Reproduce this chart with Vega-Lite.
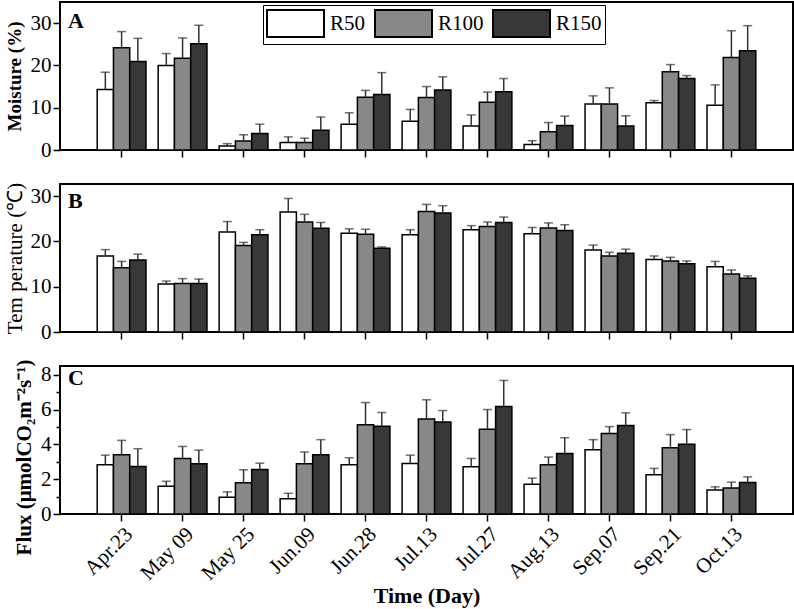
{
 "$schema": "https://vega.github.io/schema/vega-lite/v6.json",
 "background": "white",
 "padding": {"left": 2, "top": 1, "right": 1, "bottom": 2},
 "bounds": "flush",
 "spacing": 34,
 "config": {
  "font": "Liberation Serif",
  "view": {"stroke": "black", "strokeWidth": 2},
  "axis": {"domain": false, "grid": false, "tickColor": "black", "tickWidth": 1.5, "labelFont": "Liberation Serif", "labelColor": "black", "titleColor": "black", "titleFont": "Liberation Serif", "labelOverlap": false},
  "title": {"font": "Liberation Serif", "color": "black"}
 },
 "resolve": {"legend": {"color": "independent"}},
 "datasets": {
  "moisture": [
   {"date": "Apr.23", "series": "R50", "v": 14.3, "e": 18.4},
   {"date": "Apr.23", "series": "R100", "v": 24.2, "e": 28.0},
   {"date": "Apr.23", "series": "R150", "v": 20.9, "e": 26.4},
   {"date": "May 09", "series": "R50", "v": 20.0, "e": 22.8},
   {"date": "May 09", "series": "R100", "v": 21.7, "e": 26.5},
   {"date": "May 09", "series": "R150", "v": 25.1, "e": 29.5},
   {"date": "May 25", "series": "R50", "v": 0.95, "e": 1.5},
   {"date": "May 25", "series": "R100", "v": 2.1, "e": 3.6},
   {"date": "May 25", "series": "R150", "v": 3.9, "e": 6.1},
   {"date": "Jun.09", "series": "R50", "v": 1.8, "e": 3.1},
   {"date": "Jun.09", "series": "R100", "v": 1.8, "e": 2.8},
   {"date": "Jun.09", "series": "R150", "v": 4.7, "e": 7.8},
   {"date": "Jun.28", "series": "R50", "v": 6.1, "e": 8.8},
   {"date": "Jun.28", "series": "R100", "v": 12.5, "e": 14.1},
   {"date": "Jun.28", "series": "R150", "v": 13.1, "e": 18.3},
   {"date": "Jul.13", "series": "R50", "v": 6.8, "e": 9.6},
   {"date": "Jul.13", "series": "R100", "v": 12.4, "e": 15.0},
   {"date": "Jul.13", "series": "R150", "v": 14.2, "e": 17.3},
   {"date": "Jul.27", "series": "R50", "v": 5.7, "e": 8.3},
   {"date": "Jul.27", "series": "R100", "v": 11.3, "e": 13.7},
   {"date": "Jul.27", "series": "R150", "v": 13.8, "e": 16.9},
   {"date": "Aug.13", "series": "R50", "v": 1.3, "e": 2.2},
   {"date": "Aug.13", "series": "R100", "v": 4.3, "e": 6.5},
   {"date": "Aug.13", "series": "R150", "v": 5.8, "e": 8.0},
   {"date": "Sep.07", "series": "R50", "v": 10.9, "e": 12.8},
   {"date": "Sep.07", "series": "R100", "v": 10.9, "e": 14.7},
   {"date": "Sep.07", "series": "R150", "v": 5.7, "e": 8.1},
   {"date": "Sep.21", "series": "R50", "v": 11.2, "e": 11.7},
   {"date": "Sep.21", "series": "R100", "v": 18.5, "e": 20.2},
   {"date": "Sep.21", "series": "R150", "v": 16.9, "e": 17.6},
   {"date": "Oct.13", "series": "R50", "v": 10.6, "e": 15.4},
   {"date": "Oct.13", "series": "R100", "v": 21.9, "e": 28.2},
   {"date": "Oct.13", "series": "R150", "v": 23.5, "e": 29.4}
  ],
  "temperature": [
   {"date": "Apr.23", "series": "R50", "v": 16.8, "e": 18.2},
   {"date": "Apr.23", "series": "R100", "v": 14.2, "e": 15.6},
   {"date": "Apr.23", "series": "R150", "v": 15.9, "e": 17.2},
   {"date": "May 09", "series": "R50", "v": 10.6, "e": 11.25},
   {"date": "May 09", "series": "R100", "v": 10.7, "e": 11.8},
   {"date": "May 09", "series": "R150", "v": 10.7, "e": 11.7},
   {"date": "May 25", "series": "R50", "v": 22.1, "e": 24.4},
   {"date": "May 25", "series": "R100", "v": 19.1, "e": 19.8},
   {"date": "May 25", "series": "R150", "v": 21.5, "e": 22.6},
   {"date": "Jun.09", "series": "R50", "v": 26.5, "e": 29.5},
   {"date": "Jun.09", "series": "R100", "v": 24.3, "e": 26.0},
   {"date": "Jun.09", "series": "R150", "v": 22.9, "e": 24.2},
   {"date": "Jun.28", "series": "R50", "v": 21.8, "e": 22.8},
   {"date": "Jun.28", "series": "R100", "v": 21.6, "e": 22.7},
   {"date": "Jun.28", "series": "R150", "v": 18.5, "e": 18.8},
   {"date": "Jul.13", "series": "R50", "v": 21.5, "e": 22.6},
   {"date": "Jul.13", "series": "R100", "v": 26.6, "e": 28.2},
   {"date": "Jul.13", "series": "R150", "v": 26.3, "e": 27.9},
   {"date": "Jul.27", "series": "R50", "v": 22.6, "e": 23.5},
   {"date": "Jul.27", "series": "R100", "v": 23.3, "e": 24.3},
   {"date": "Jul.27", "series": "R150", "v": 24.2, "e": 25.4},
   {"date": "Aug.13", "series": "R50", "v": 21.7, "e": 23.1},
   {"date": "Aug.13", "series": "R100", "v": 23.0, "e": 24.1},
   {"date": "Aug.13", "series": "R150", "v": 22.4, "e": 23.7},
   {"date": "Sep.07", "series": "R50", "v": 18.1, "e": 19.2},
   {"date": "Sep.07", "series": "R100", "v": 16.8, "e": 17.6},
   {"date": "Sep.07", "series": "R150", "v": 17.4, "e": 18.3},
   {"date": "Sep.21", "series": "R50", "v": 16.0, "e": 16.8},
   {"date": "Sep.21", "series": "R100", "v": 15.7, "e": 16.5},
   {"date": "Sep.21", "series": "R150", "v": 15.1, "e": 15.7},
   {"date": "Oct.13", "series": "R50", "v": 14.4, "e": 15.6},
   {"date": "Oct.13", "series": "R100", "v": 12.8, "e": 13.7},
   {"date": "Oct.13", "series": "R150", "v": 11.9, "e": 12.4}
  ],
  "flux": [
   {"date": "Apr.23", "series": "R50", "v": 2.83, "e": 3.38},
   {"date": "Apr.23", "series": "R100", "v": 3.40, "e": 4.23},
   {"date": "Apr.23", "series": "R150", "v": 2.73, "e": 3.75},
   {"date": "May 09", "series": "R50", "v": 1.6, "e": 1.88},
   {"date": "May 09", "series": "R100", "v": 3.19, "e": 3.88},
   {"date": "May 09", "series": "R150", "v": 2.88, "e": 3.67},
   {"date": "May 25", "series": "R50", "v": 0.96, "e": 1.27},
   {"date": "May 25", "series": "R100", "v": 1.79, "e": 2.54},
   {"date": "May 25", "series": "R150", "v": 2.56, "e": 2.92},
   {"date": "Jun.09", "series": "R50", "v": 0.88, "e": 1.19},
   {"date": "Jun.09", "series": "R100", "v": 2.88, "e": 3.56},
   {"date": "Jun.09", "series": "R150", "v": 3.40, "e": 4.27},
   {"date": "Jun.28", "series": "R50", "v": 2.83, "e": 3.23},
   {"date": "Jun.28", "series": "R100", "v": 5.13, "e": 6.40},
   {"date": "Jun.28", "series": "R150", "v": 5.04, "e": 5.83},
   {"date": "Jul.13", "series": "R50", "v": 2.90, "e": 3.38},
   {"date": "Jul.13", "series": "R100", "v": 5.46, "e": 6.56},
   {"date": "Jul.13", "series": "R150", "v": 5.29, "e": 5.94},
   {"date": "Jul.27", "series": "R50", "v": 2.71, "e": 3.19},
   {"date": "Jul.27", "series": "R100", "v": 4.87, "e": 6.0},
   {"date": "Jul.27", "series": "R150", "v": 6.17, "e": 7.67},
   {"date": "Aug.13", "series": "R50", "v": 1.71, "e": 2.06},
   {"date": "Aug.13", "series": "R100", "v": 2.83, "e": 3.27},
   {"date": "Aug.13", "series": "R150", "v": 3.48, "e": 4.38},
   {"date": "Sep.07", "series": "R50", "v": 3.69, "e": 4.27},
   {"date": "Sep.07", "series": "R100", "v": 4.62, "e": 5.02},
   {"date": "Sep.07", "series": "R150", "v": 5.08, "e": 5.81},
   {"date": "Sep.21", "series": "R50", "v": 2.25, "e": 2.62},
   {"date": "Sep.21", "series": "R100", "v": 3.81, "e": 4.56},
   {"date": "Sep.21", "series": "R150", "v": 4.0, "e": 4.85},
   {"date": "Oct.13", "series": "R50", "v": 1.38, "e": 1.56},
   {"date": "Oct.13", "series": "R100", "v": 1.5, "e": 1.83},
   {"date": "Oct.13", "series": "R150", "v": 1.81, "e": 2.13}
  ]
 },
 "vconcat": [
  {
   "width": 733, "height": 148,
   "data": {"name": "moisture"},
   "title": {"text": "A", "anchor": "start", "frame": "group", "fontSize": 22, "fontWeight": "bold", "dx": 8, "dy": 31, "offset": 0},
   "encoding": {
    "x": {"field": "date", "type": "nominal", "sort": null, "scale": {"paddingInner": 0.2, "paddingOuter": 0.61}, "axis": {"title": null, "labels": false, "tickSize": 7}},
    "xOffset": {"field": "series", "type": "nominal", "sort": ["R50", "R100", "R150"], "scale": {"paddingInner": 0, "paddingOuter": 0}}
   },
   "layer": [
    {"mark": {"type": "bar", "stroke": "black", "strokeWidth": 1.5},
     "encoding": {
      "y": {"field": "v", "type": "quantitative", "scale": {"domain": [0, 35], "nice": false},
            "axis": {"title": "Moisture (%)", "titleFontWeight": "bold", "titleFontSize": 19, "titlePadding": 6, "labelFontSize": 21, "labelPadding": 2, "labelOverlap": false,
                     "values": [0, 5, 10, 15, 20, 25, 30], "labelExpr": "datum.value % 10 === 0 ? datum.label : ''",
                     "tickSize": {"condition": {"test": "datum.value % 10 === 0", "value": 7}, "value": 4}}},
      "color": {"field": "series", "type": "nominal", "scale": {"domain": ["R50", "R100", "R150"], "range": ["white", "#888888", "#383838"]},
                "legend": {"orient": "none", "legendX": 203, "legendY": 3, "direction": "horizontal", "title": null,
                           "symbolType": "M-2,-0.947H2V0.947H-2Z", "symbolSize": 812, "symbolOffset": 14, "symbolStrokeWidth": 2, "symbolStrokeColor": "black", "symbolOpacity": 1,
                           "labelFontSize": 21, "labelFont": "Liberation Serif", "labelColor": "black", "labelOffset": 19, "columnPadding": 5,
                           "strokeColor": "black", "padding": 3, "fillColor": "white"}}
     }},
    {"mark": {"type": "rule", "color": "#333333", "strokeWidth": 1.5},
     "encoding": {"y": {"field": "v", "type": "quantitative"}, "y2": {"field": "e"}}},
    {"mark": {"type": "tick", "color": "#333333", "thickness": 1.5, "size": 9},
     "encoding": {"y": {"field": "e", "type": "quantitative"}}}
   ]
  },
  {
   "width": 733, "height": 148,
   "data": {"name": "temperature"},
   "title": {"text": "B", "anchor": "start", "frame": "group", "fontSize": 22, "fontWeight": "bold", "dx": 8, "dy": 31, "offset": 0},
   "encoding": {
    "x": {"field": "date", "type": "nominal", "sort": null, "scale": {"paddingInner": 0.2, "paddingOuter": 0.61}, "axis": {"title": null, "labels": false, "tickSize": 7}},
    "xOffset": {"field": "series", "type": "nominal", "sort": ["R50", "R100", "R150"], "scale": {"paddingInner": 0, "paddingOuter": 0}}
   },
   "layer": [
    {"mark": {"type": "bar", "stroke": "black", "strokeWidth": 1.5},
     "encoding": {
      "y": {"field": "v", "type": "quantitative", "scale": {"domain": [0, 32.7], "nice": false},
            "axis": {"title": "Tem perature (℃)", "titleFontWeight": "normal", "titleFontSize": 21, "titlePadding": 5, "labelFontSize": 21, "labelPadding": 2, "labelOverlap": false,
                     "values": [0, 5, 10, 15, 20, 25, 30], "labelExpr": "datum.value % 10 === 0 ? datum.label : ''",
                     "tickSize": {"condition": {"test": "datum.value % 10 === 0", "value": 7}, "value": 4}}},
      "color": {"field": "series", "type": "nominal", "scale": {"domain": ["R50", "R100", "R150"], "range": ["white", "#888888", "#383838"]}, "legend": null}
     }},
    {"mark": {"type": "rule", "color": "#333333", "strokeWidth": 1.5},
     "encoding": {"y": {"field": "v", "type": "quantitative"}, "y2": {"field": "e"}}},
    {"mark": {"type": "tick", "color": "#333333", "thickness": 1.5, "size": 9},
     "encoding": {"y": {"field": "e", "type": "quantitative"}}}
   ]
  },
  {
   "width": 733, "height": 148,
   "data": {"name": "flux"},
   "title": {"text": "C", "anchor": "start", "frame": "group", "fontSize": 22, "fontWeight": "bold", "dx": 8, "dy": 31, "offset": 0},
   "resolve": {"scale": {"y": "independent"}, "axis": {"y": "independent"}},
   "encoding": {
    "x": {"field": "date", "type": "nominal", "sort": null, "scale": {"paddingInner": 0.2, "paddingOuter": 0.61},
          "axis": {"title": "Time (Day)", "titleFontSize": 22, "titleFontWeight": "bold", "titlePadding": 2, "labelAngle": -45, "labelFontSize": 21, "labelPadding": 2, "tickSize": 7}},
    "xOffset": {"field": "series", "type": "nominal", "sort": ["R50", "R100", "R150"], "scale": {"paddingInner": 0, "paddingOuter": 0}}
   },
   "layer": [
    {"mark": {"type": "bar", "stroke": "black", "strokeWidth": 1.5},
     "encoding": {
      "y": {"field": "v", "type": "quantitative", "scale": {"domain": [0, 8.5], "nice": false},
            "axis": {"title": "Flux (μmolCO₂m⁻²s⁻¹)", "titleFontWeight": "bold", "titleFontSize": 21, "titlePadding": 6, "titleY": 91, "labelFontSize": 21, "labelPadding": 2,
                     "labelOverlap": false, "values": [0, 2, 4, 6, 8], "tickSize": 7}},
      "color": {"field": "series", "type": "nominal", "scale": {"domain": ["R50", "R100", "R150"], "range": ["white", "#888888", "#383838"]}, "legend": null}
     }},
    {"mark": {"type": "rule", "color": "#333333", "strokeWidth": 1.5},
     "encoding": {"y": {"field": "v", "type": "quantitative", "scale": {"domain": [0, 8.5], "nice": false},
                        "axis": {"orient": "left", "title": null, "labels": false, "values": [1, 3, 5, 7], "tickSize": 4, "domain": false}},
                  "y2": {"field": "e"}}},
    {"mark": {"type": "tick", "color": "#333333", "thickness": 1.5, "size": 9},
     "encoding": {"y": {"field": "e", "type": "quantitative", "scale": {"domain": [0, 8.5], "nice": false}, "axis": null}}}
   ]
  }
 ]
}
